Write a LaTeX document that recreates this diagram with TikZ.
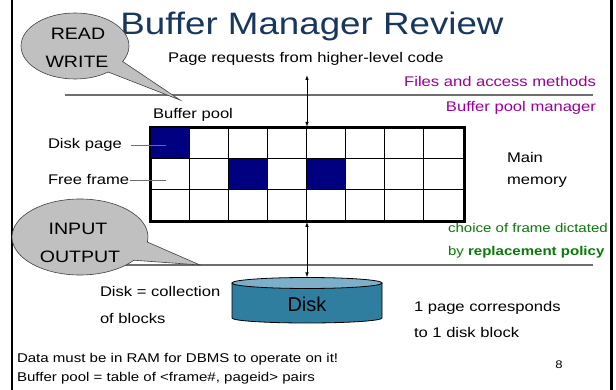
\documentclass[tikz,border=0pt]{standalone}
\usepackage{fontspec}
\setmainfont{Liberation Sans}[FakeStretch=1.185]
\newfontfamily\plainsans{Liberation Sans}
\usetikzlibrary{arrows.meta,shapes.callouts,shapes.geometric}
\definecolor{titleblue}{RGB}{23,55,94}
\definecolor{cellblue}{RGB}{0,0,128}
\definecolor{lblpurple}{RGB}{153,0,153}
\definecolor{lblgreen}{RGB}{10,120,10}
\definecolor{diskside}{RGB}{47,126,160}
\definecolor{disktop}{RGB}{125,175,200}
\definecolor{bubble}{RGB}{192,192,192}
\definecolor{rulegray}{RGB}{110,110,110}
\begin{document}
\begin{tikzpicture}[x=1pt,y=-1pt,
  txt/.style={inner sep=0pt, outer sep=0pt, anchor=base west, font=\fontsize{14}{16}\selectfont},
  small/.style={txt, font=\fontsize{12.7}{15}\selectfont},
  bubbletxt/.style={inner sep=0pt, anchor=base, font=\fontsize{16.5}{18}\selectfont},
  divider/.style={draw=rulegray, line width=1.2pt},
  conn/.style={draw=rulegray, line width=1pt},
  gridline/.style={draw=black, line width=0.8pt},
  dblarrow/.style={draw=black, line width=0.8pt, {Latex[length=5pt,width=3.5pt]}-{Latex[length=5pt,width=3.5pt]}},
  callbubble/.style={ellipse callout, draw=black!75, line width=0.6pt, fill=bubble, inner sep=0pt}
]
\useasboundingbox (0,0) rectangle (616,390);
\fill[white] (0,0) rectangle (616,390);
% slide frame
\draw[line width=2pt] (12,0) -- (12,390);
\draw[line width=3pt] (611,0) -- (611,390);

% title
\node[inner sep=0pt, anchor=base, text=titleblue, font=\fontsize{31}{36}\selectfont] (title) at (312,35) {Buffer Manager Review};

% layer dividers
\coordinate (d1a) at (65,95);  \coordinate (d1b) at (593,95);
\coordinate (d2a) at (65,265); \coordinate (d2b) at (593,265);
\draw[divider] (d1a) -- (d1b);
\draw[divider] (d2a) -- (d2b);

% texts
\node[txt] (req) at (168,63) {Page requests from higher-level code};
\node[txt, anchor=base east, text=lblpurple] (fam) at (596,87) {Files and access methods};
\node[txt, anchor=base east, text=lblpurple] (bpm) at (596,112) {Buffer pool manager};
\node[txt] (bp) at (153,119) {Buffer pool};

% buffer pool grid
\node[draw=black, line width=1.8pt, minimum width=313pt, minimum height=93pt, inner sep=0pt, anchor=north west] (pool) at (150,127) {};
\foreach \i in {1,...,7} \draw[gridline] ({150+\i*39.125},127) -- ({150+\i*39.125},220);
\foreach \yy in {158,189} \draw[gridline] (150,\yy) -- (463,\yy);
\filldraw[fill=cellblue, draw=black, line width=0.8pt] (150,127) rectangle (189.125,158);
\filldraw[fill=cellblue, draw=black, line width=0.8pt] (228.25,158) rectangle (267.375,189);
\filldraw[fill=cellblue, draw=black, line width=0.8pt] (306.5,158) rectangle (345.625,189);
\draw[line width=1.8pt] (pool.north west) rectangle (pool.south east);

\node[txt] (dp) at (48,149) {Disk page};
\node[txt] (ff) at (48,185) {Free frame};
\coordinate (dpend) at (166,145);
\coordinate (ffend) at (166,180);
\draw[conn] ([xshift=9pt]dp.east) -- (dpend |- dp.east);
\draw[conn] ([xshift=1pt]ff.east) -- (ffend |- ff.east);

\node[txt] (mm1) at (507,163) {Main};
\node[txt] (mm2) at (507,185) {memory};

\node[small, text=lblgreen] (rp1) at (448,233) {choice of frame dictated};
\node[small, text=lblgreen] (rp2) at (448,255) {by \textbf{replacement policy}};

% disk
\filldraw[fill=diskside, draw=black, line width=0.8pt] (232,283) -- (232,318) arc[start angle=180, end angle=0, x radius=75, y radius=5] -- (382,283) -- cycle;
\filldraw[fill=disktop, draw=black, line width=0.8pt] (307,283) ellipse[x radius=75, y radius=5.5];
\coordinate (disktopc) at (307,277.5);
\node[inner sep=0pt, anchor=base, font=\plainsans\fontsize{20}{22}\selectfont] (disk) at (307,312) {Disk};

% arrows
\coordinate (reqtop) at (307,75);
\draw[dblarrow] (reqtop) -- (reqtop |- pool.north);
\draw[dblarrow] (reqtop |- pool.south) -- (disktopc);

\node[txt] (dc1) at (100,297) {Disk = collection};
\node[txt] (dc2) at (100,323) {of blocks};
\node[txt] (pc1) at (414,312) {1 page corresponds};
\node[txt] (pc2) at (414,337) {to 1 disk block};

\node[small] (n1) at (17,362) {Data must be in RAM for DBMS to operate on it!};
\node[small] (n2) at (17,381) {Buffer pool = table of <frame\#, pageid> pairs};
\node[inner sep=0pt, anchor=base, font=\fontsize{11}{13}\selectfont] (pg) at (559,368) {8};

% callouts
\node[callbubble, minimum width=108pt, minimum height=66pt, callout absolute pointer={(180,100)}, callout pointer arc=24] (rw) at (75,46) {};
\node[bubbletxt] (rwa) at (78,40) {READ};
\node[bubbletxt] (rwb) at (77,68) {WRITE};

\node[callbubble, minimum width=136pt, minimum height=76pt, callout absolute pointer={(200,265)}, callout pointer arc=30] (io) at (80,237) {};
\node[bubbletxt] (ioa) at (78,235) {INPUT};
\node[bubbletxt] (iob) at (80,262) {OUTPUT};
\end{tikzpicture}
\end{document}
